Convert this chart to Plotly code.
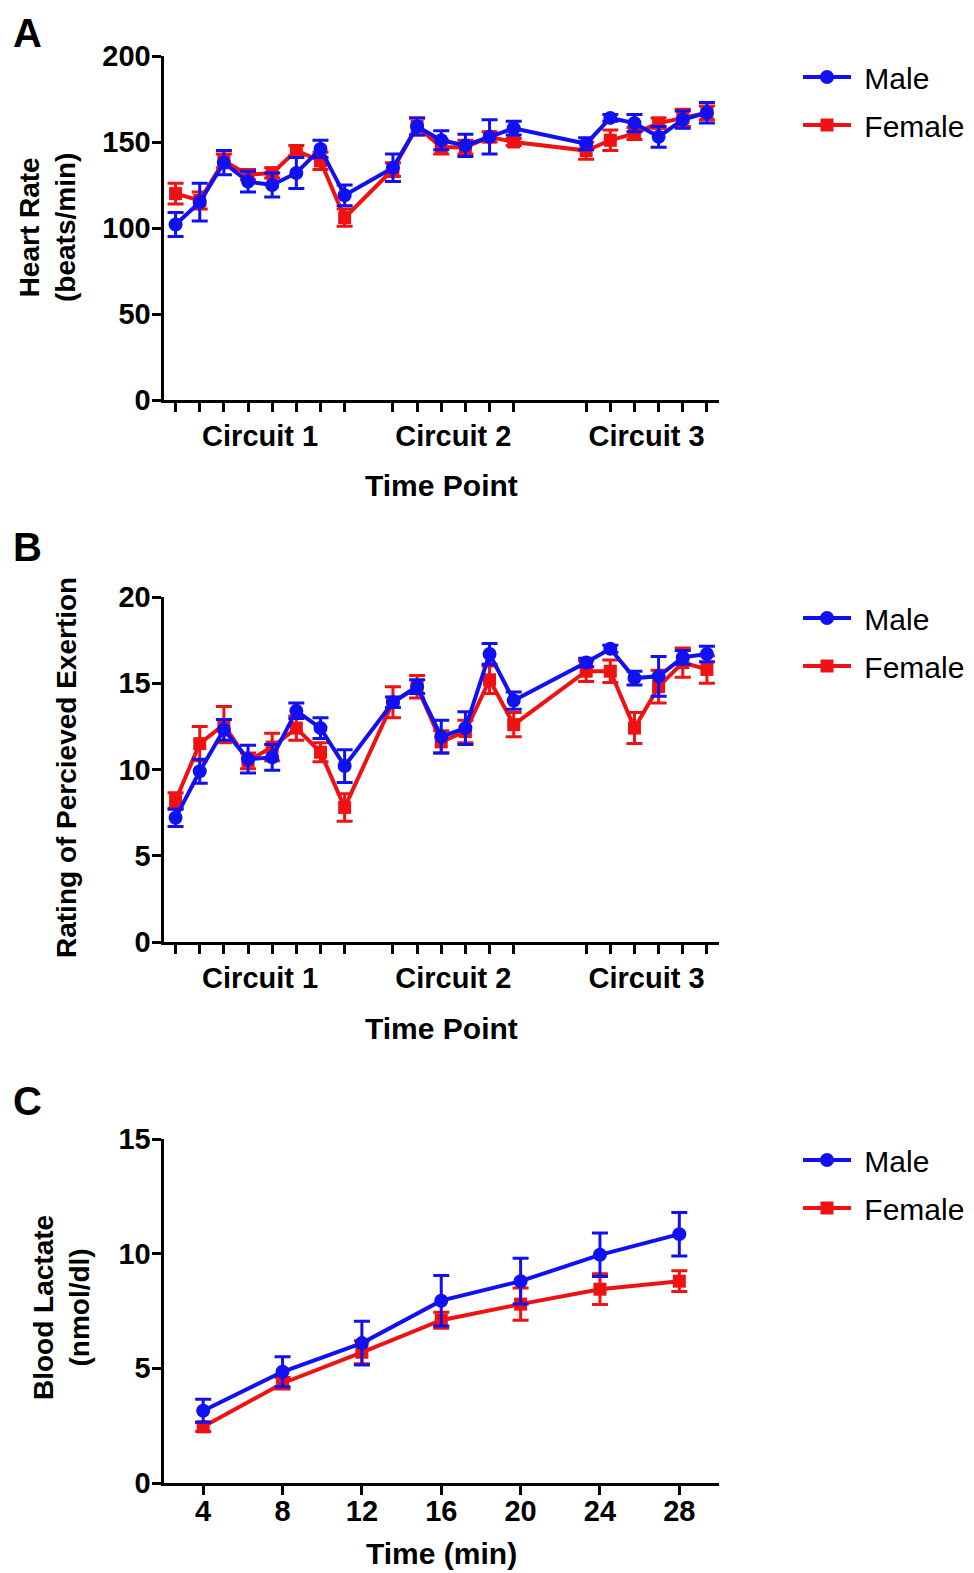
import plotly.graph_objects as go

# ---------------- data ----------------
time_point_idx = [0, 1, 2, 3, 4, 5, 6, 7, 9, 10, 11, 12, 13, 14, 17, 18, 19, 20, 21, 22]
circuit_labels = ["Circuit 1", "Circuit 2", "Circuit 3"]
circuit_centers = [3.5, 11.5, 19.5]

hr_male = [102, 115, 138, 127, 125, 132, 146, 119, 135, 159, 151, 148, 153, 158, 149, 164, 161, 153, 163, 167]
hr_male_err = [7, 11, 7, 6, 7, 9, 5, 6, 8, 5, 5.5, 6.5, 10, 4, 3.5, 2, 5, 6, 5, 6]
hr_female = [120, 116, 139, 131, 132, 145, 139, 106, 134, 159, 147, 147, 153, 150, 145, 151, 155, 161, 164, 167]
hr_female_err = [6, 5, 4, 3, 3, 3, 5, 5, 4, 5, 4, 4, 3, 2, 5, 6, 3.5, 3, 5, 4]

rpe_male = [7.2, 9.9, 12.3, 10.6, 10.7, 13.4, 12.4, 10.2, 13.9, 14.8, 11.9, 12.4, 16.7, 14.0, 16.2, 17.0, 15.3, 15.4, 16.5, 16.7]
rpe_male_err = [0.5, 0.7, 0.6, 0.8, 0.75, 0.45, 0.6, 0.95, 0.3, 0.4, 0.95, 0.95, 0.6, 0.5, 0.25, 0.2, 0.4, 1.15, 0.4, 0.45]
rpe_female = [8.2, 11.5, 12.6, 10.5, 11.3, 12.4, 11.0, 7.8, 13.9, 14.8, 11.6, 12.2, 15.2, 12.6, 15.7, 15.7, 12.4, 14.8, 16.2, 15.8]
rpe_female_err = [0.45, 1.0, 1.05, 0.45, 0.8, 0.7, 0.55, 0.8, 0.9, 0.65, 0.65, 0.65, 0.8, 0.7, 0.6, 0.65, 0.9, 0.95, 0.85, 0.8]

lac_time = [4, 8, 12, 16, 20, 24, 28]
lac_male = [3.15, 4.85, 6.1, 7.95, 8.8, 9.95, 10.85]
lac_male_err = [0.5, 0.65, 0.95, 1.1, 1.0, 0.95, 0.95]
lac_female = [2.45, 4.35, 5.7, 7.1, 7.8, 8.45, 8.8]
lac_female_err = [0.2, 0.25, 0.5, 0.35, 0.7, 0.67, 0.45]

BLUE = "#1010f2"
RED = "#f01212"
FONT = "Liberation Sans"
W, H = 974, 1573
PAGE_OFFSET = 8  # default body margin of the html page

fig = go.Figure()


def add_pair(x, m, me, f, fe, xa, ya, leg, tag):
    fig.add_trace(go.Scatter(
        x=x, y=f, name="\u00a0Female", mode="lines+markers",
        line=dict(color=RED, width=4), marker=dict(symbol="square", size=13, color=RED),
        error_y=dict(type="data", array=fe, color=RED, thickness=3, width=8),
        xaxis=xa, yaxis=ya, legend=leg, legendrank=2, legendgroup=tag + "f", cliponaxis=False))
    fig.add_trace(go.Scatter(
        x=x, y=m, name="\u00a0Male", mode="lines+markers",
        line=dict(color=BLUE, width=4), marker=dict(symbol="circle", size=14, color=BLUE),
        error_y=dict(type="data", array=me, color=BLUE, thickness=3, width=8),
        xaxis=xa, yaxis=ya, legend=leg, legendrank=1, legendgroup=tag + "m", cliponaxis=False))


add_pair(time_point_idx, hr_male, hr_male_err, hr_female, hr_female_err, "x", "y", "legend", "A")
add_pair(time_point_idx, rpe_male, rpe_male_err, rpe_female, rpe_female_err, "x2", "y2", "legend2", "B")
add_pair(lac_time, lac_male, lac_male_err, lac_female, lac_female_err, "x3", "y3", "legend3", "C")


def px(p):
    return (p - PAGE_OFFSET) / W


def py(p):
    return 1 - (p - PAGE_OFFSET) / H


xdom = [px(163.5), px(719)]
panels = {
    "A": (56, 400),
    "B": (597, 942),
    "C": (1139, 1483),
}

tickfont = dict(family=FONT, size=29, color="black", weight="bold")
axis_common = dict(showline=True, linewidth=3, linecolor="black", showgrid=False, zeroline=False,
                   ticks="outside", ticklen=9, tickwidth=3, tickcolor="black", tickfont=tickfont,
                   automargin=False)

layout = dict(
    width=W, height=H, margin=dict(l=0, r=0, t=0, b=0, autoexpand=False),
    paper_bgcolor="white", plot_bgcolor="white",
    font=dict(family=FONT, color="black"),
)

# x axes for A and B (circuit-grouped)
for i, key in enumerate(["A", "B"]):
    name = "xaxis" if i == 0 else "xaxis2"
    ya = "y" if i == 0 else "y2"
    layout[name] = dict(
        axis_common, domain=xdom, anchor=ya, range=[-0.5, 22.5],
        tickmode="array", tickvals=circuit_centers, ticktext=circuit_labels,
        ticklen=9, tickcolor="rgba(0,0,0,0)", ticklabelstandoff=-1,
        minor=dict(tickmode="array", tickvals=time_point_idx, ticks="outside",
                   ticklen=9, tickwidth=3, tickcolor="black"),
    )
layout["xaxis3"] = dict(axis_common, domain=xdom, anchor="y3", range=[2, 30],
                        tickmode="array", tickvals=lac_time, ticklabelstandoff=-9)

for name, key, rng, dt in [("yaxis", "A", [0, 200], 50), ("yaxis2", "B", [0, 20], 5), ("yaxis3", "C", [0, 15], 5)]:
    top, bot = panels[key]
    xa = {"yaxis": "x", "yaxis2": "x2", "yaxis3": "x3"}[name]
    layout[name] = dict(axis_common, domain=[py(bot), py(top)], anchor=xa, range=rng,
                        tickmode="linear", tick0=0, dtick=dt, ticklabelstandoff=-5)

# legends
legfont = dict(family=FONT, size=30, color="black")
for name, key in [("legend", "A"), ("legend2", "B"), ("legend3", "C")]:
    top, _ = panels[key]
    layout[name] = dict(x=px(798), y=py(top - 5), xanchor="left", yanchor="top",
                        font=legfont, itemwidth=48, tracegroupgap=6,
                        bgcolor="rgba(0,0,0,0)", traceorder="grouped")

fig.update_layout(**layout)

# annotations: panel letters, axis titles
bold = dict(family=FONT, color="black", weight="bold")
ann = []
for letter, ypix in [("A", 33), ("B", 547), ("C", 1101)]:
    ann.append(dict(text=letter, x=px(11), y=py(ypix), xref="paper", yref="paper",
                    xanchor="left", yanchor="middle", showarrow=False, font=dict(bold, size=40)))
for text, ypix in [("Time Point", 486), ("Time Point", 1028), ("Time (min)", 1553)]:
    ann.append(dict(text=text, x=(xdom[0] + xdom[1]) / 2, y=py(ypix), xref="paper", yref="paper",
                    xanchor="center", yanchor="middle", showarrow=False, font=dict(bold, size=30)))
for text, xpix, ypix in [("Heart Rate<br>(beats/min)", 47, 228),
                         ("Rating of Percieved Exertion", 66, 768),
                         ("Blood Lactate<br>(nmol/dl)", 61, 1308)]:
    ann.append(dict(text=text, x=px(xpix), y=py(ypix), xref="paper", yref="paper",
                    xanchor="center", yanchor="middle", showarrow=False, textangle=-90,
                    font=dict(bold, size=28)))
fig.update_layout(annotations=ann)

fig.write_html("out.html")
